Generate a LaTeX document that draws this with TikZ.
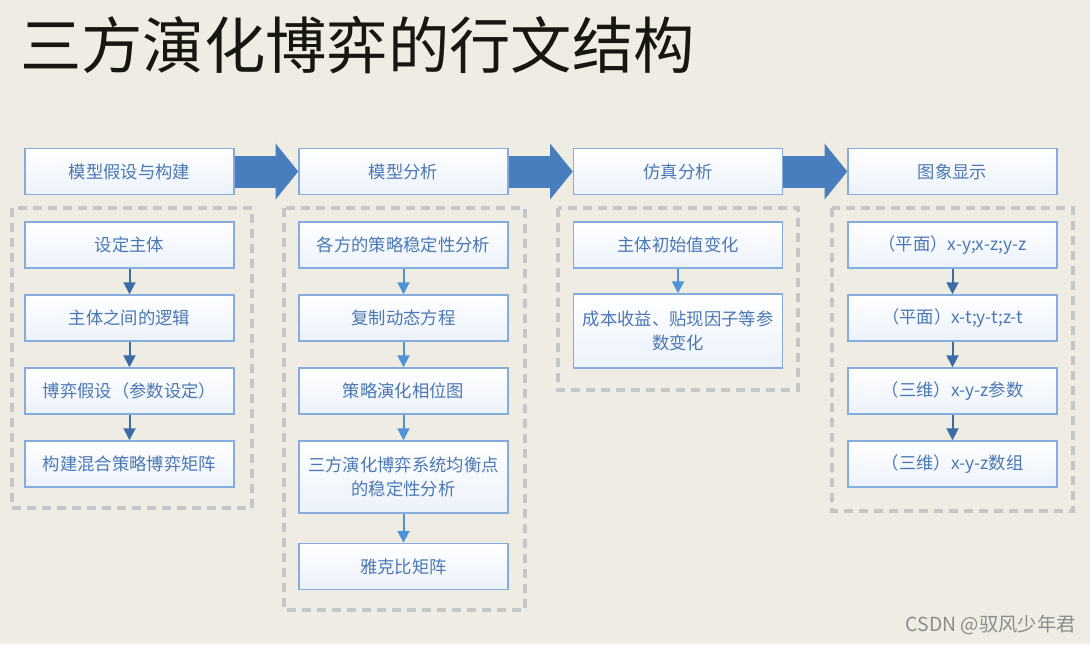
\documentclass[tikz,border=0pt]{standalone}
\usepackage{fontspec}
\setmainfont{Noto Sans CJK SC}
\usetikzlibrary{arrows.meta,calc}
\definecolor{bg}{RGB}{239,236,227}
\definecolor{boxline}{RGB}{132,172,220}
\definecolor{txt}{RGB}{74,120,180}
\definecolor{bigarr}{RGB}{72,126,190}
\definecolor{darr}{RGB}{60,108,165}
\definecolor{larr}{RGB}{80,148,216}
\definecolor{dashc}{RGB}{198,198,198}
\definecolor{boxfill}{RGB}{236,242,251}
\definecolor{titlec}{RGB}{24,22,16}
\definecolor{wmark}{RGB}{140,140,140}
\begin{document}
\begin{tikzpicture}[x=0.75pt,y=-0.75pt,
  box/.style={draw=boxline, line width=1.1pt, top color=white, bottom color=boxfill,
    text=txt, font=\fontsize{13}{18}\selectfont, minimum width=156.75pt,
    minimum height=34.5pt, inner sep=3pt, text width=150.75pt, align=center},
  tallbox/.style={box, minimum height=54pt},
  dashbox/.style={draw=dashc, line width=3pt, dash pattern=on 6.75pt off 4.5pt},
  bigarrow/.style={draw=bigarr, line width=24pt, -{Triangle[length=17pt,width=41pt]}},
  darrow/.style={draw=darr, line width=1.5pt, -{Triangle[length=9pt,width=9pt]}},
  larrow/.style={draw=larr, line width=1.5pt, -{Triangle[length=9pt,width=9pt]}}
]
\fill[bg] (0,0) rectangle (1090,644);
\useasboundingbox (0,0) rectangle (1090,644);

% title
\node[anchor=west, text=titlec, inner sep=0pt, font=\fontsize{46}{50}\selectfont] (title) at (20,45) {三方演化博弈的行文结构};

% dashed containers
\draw[dashbox] (12,208) rectangle (252,508);
\draw[dashbox] (284,208) rectangle (525,610);
\draw[dashbox] (558,208) rectangle (798,390);
\draw[dashbox] (832,208) rectangle (1073,511);

% headers
\node[box] (h1) at (129.5,171.5) {模型假设与构建};
\node[box] (h2) at (403.5,171.5) {模型分析};
\node[box] (h3) at (678,171.5) {仿真分析};
\node[box] (h4) at (952.5,171.5) {图象显示};

% column 1
\node[box] (a1) at (129.5,245) {设定主体};
\node[box] (a2) at (129.5,318) {主体之间的逻辑};
\node[box] (a3) at (129.5,391) {博弈假设（参数设定）};
\node[box] (a4) at (129.5,464) {构建混合策略博弈矩阵};

% column 2
\node[box] (b1) at (403.5,245) {各方的策略稳定性分析};
\node[box] (b2) at (403.5,318) {复制动态方程};
\node[box] (b3) at (403.5,391) {策略演化相位图};
\node[tallbox] (b4) at (403.5,477) {三方演化博弈系统均衡点\\的稳定性分析};
\node[box] (b5) at (403.5,566.5) {雅克比矩阵};

% column 3
\node[box] (c1) at (678,245) {主体初始值变化};
\node[tallbox, minimum height=55.5pt] (c2) at (678,331) {成本收益、贴现因子等参\\数变化};

% column 4
\node[box] (d1) at (952.5,245) {（平面）x-y;x-z;y-z};
\node[box] (d2) at (952.5,318) {（平面）x-t;y-t;z-t};
\node[box] (d3) at (952.5,391) {（三维）x-y-z参数};
\node[box] (d4) at (952.5,464) {（三维）x-y-z数组};

% big arrows
\draw[bigarrow] (h1.east) -- (h2.west);
\draw[bigarrow] (h2.east) -- (h3.west);
\draw[bigarrow] (h3.east) -- (h4.west);

% small arrows
\draw[darrow] (a1) -- (a2);
\draw[darrow] (a2) -- (a3);
\draw[darrow] (a3) -- (a4);
\draw[larrow] (b1) -- (b2);
\draw[larrow] (b2) -- (b3);
\draw[larrow] (b3) -- (b4);
\draw[larrow] (b4) -- (b5);
\draw[larrow] (c1) -- (c2);
\draw[darrow] (d1) -- (d2);
\draw[darrow] (d2) -- (d3);
\draw[darrow] (d3) -- (d4);

% watermark
\node[anchor=east, text=wmark, inner sep=0pt, font=\fontsize{14.5}{16}\selectfont] (wm) at (1076,625) {CSDN @驭风少年君};
\end{tikzpicture}
\end{document}
